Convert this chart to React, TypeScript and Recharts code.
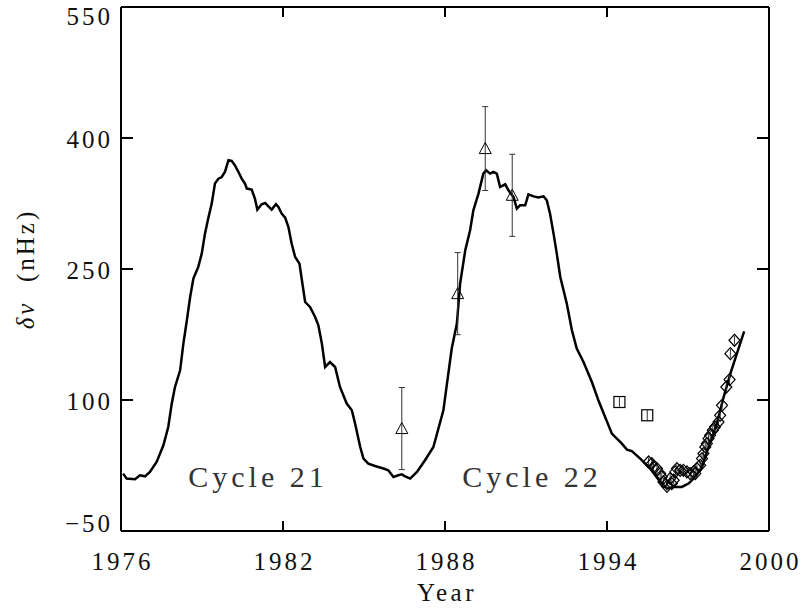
import React from "react";
import { ComposedChart, Line, Scatter, XAxis, YAxis, ErrorBar } from "recharts";

// smoothed frequency shift curve (nHz) vs year
const curveYear = [
  1976.08, 1976.21, 1976.52, 1976.7, 1976.89, 1977.07, 1977.32, 1977.57, 1977.75, 1977.88,
  1978.0, 1978.19, 1978.31, 1978.43, 1978.56, 1978.68, 1978.86, 1978.99, 1979.11, 1979.23,
  1979.36, 1979.48, 1979.61, 1979.73, 1979.85, 1979.98, 1980.1, 1980.22, 1980.35, 1980.47,
  1980.59, 1980.66, 1980.84, 1980.96, 1981.05, 1981.21, 1981.34, 1981.46, 1981.58, 1981.74,
  1981.83, 1981.95, 1982.08, 1982.2, 1982.32, 1982.45, 1982.61, 1982.7, 1982.82, 1983.0,
  1983.19, 1983.31, 1983.44, 1983.56, 1983.74, 1983.93, 1984.11, 1984.36, 1984.55, 1984.67,
  1984.86, 1984.98, 1985.16, 1985.41, 1985.72, 1985.9, 1986.09, 1986.27, 1986.4, 1986.52,
  1986.71, 1986.96, 1987.26, 1987.57, 1987.94, 1988.19, 1988.25, 1988.44, 1988.56, 1988.75,
  1988.93, 1989.05, 1989.24, 1989.42, 1989.52, 1989.67, 1989.79, 1989.92, 1990.04, 1990.23,
  1990.35, 1990.54, 1990.66, 1990.78, 1990.97, 1991.09, 1991.28, 1991.46, 1991.65, 1991.77,
  1991.89, 1992.02, 1992.14, 1992.27, 1992.39, 1992.51, 1992.7, 1992.88, 1993.13, 1993.44,
  1993.68, 1993.93, 1994.18, 1994.55, 1994.74, 1994.92, 1995.23, 1995.6, 1995.97, 1996.22,
  1996.46, 1996.77, 1997.02, 1997.27, 1997.52, 1997.76, 1998.07, 1998.32, 1998.57, 1998.81,
  1999.08,
];
const curveShift = [
  15.7, 10.0, 9.2, 13.8, 12.6, 17.6, 29.0, 48.1, 69.1, 95.9,
  114.9, 134.0, 164.6, 189.3, 217.6, 239.0, 252.3, 267.6, 290.5, 307.7,
  324.9, 347.8, 353.5, 355.3, 361.1, 374.5, 373.7, 368.7, 361.1, 353.5,
  347.8, 342.1, 340.9, 330.6, 318.0, 324.1, 325.6, 321.8, 318.0, 324.1,
  321.0, 313.4, 308.9, 298.1, 279.1, 263.7, 256.2, 237.1, 212.2, 206.5,
  195.0, 185.5, 164.6, 137.8, 143.5, 137.8, 114.9, 95.9, 88.2, 73.0,
  46.2, 32.9, 27.2, 24.4, 21.5, 19.5, 11.8, 13.8, 14.9, 12.6,
  10.0, 17.6, 31.0, 46.2, 88.2, 145.5, 158.9, 187.5, 233.3, 271.4,
  294.3, 317.2, 336.3, 359.2, 363.0, 359.2, 361.1, 359.2, 343.9, 347.0,
  340.1, 332.4, 319.2, 322.9, 322.9, 335.5, 333.2, 331.8, 333.2, 328.7,
  313.4, 290.5, 267.6, 240.8, 225.6, 210.4, 179.8, 158.9, 143.5, 120.6,
  99.7, 80.5, 61.5, 50.1, 43.2, 41.6, 32.9, 21.5, 6.1, -1.5,
  0.4, 0.4, 4.3, 11.8, 23.3, 46.2, 73.0, 103.4, 130.2, 153.1,
  178.7,
];

// triangles
const triYear = [1986.4, 1988.47, 1989.49, 1990.49];
const triShift = [67.3, 221.8, 387.9, 334.4];
const triErr = [47, 47, 48, 47];

// squares
const sqYear = [1994.46, 1995.49];
const sqShift = [97.7, 82.5];
const sqErr = [6, 6];

// diamonds
const diaYear = [
  1995.54, 1995.66, 1995.72, 1995.85, 1995.97, 1996.03, 1996.09, 1996.22, 1996.34, 1996.4,
  1996.47, 1996.53, 1996.59, 1996.71, 1996.83, 1996.96, 1997.08, 1997.2, 1997.27, 1997.33,
  1997.45, 1997.52, 1997.57, 1997.64, 1997.7, 1997.76, 1997.82, 1997.92, 1998.0, 1998.13,
  1998.19, 1998.26, 1998.42, 1998.54, 1998.57, 1998.72,
];
const diaShift = [
  29.0, 27.2, 23.3, 21.5, 15.7, 11.8, 6.1, 1.2, 10.0, 4.3,
  8.1, 17.6, 21.5, 19.5, 19.5, 17.6, 15.7, 17.6, 15.7, 21.5,
  25.2, 32.9, 38.6, 46.2, 50.1, 55.8, 59.6, 65.3, 69.1, 74.8,
  82.5, 93.9, 114.9, 123.4, 153.1, 168.4,
];

const xTicks = [1976, 1982, 1988, 1994, 2000];
const yTicks = [-50, 100, 250, 400, 550];

const curve = curveYear.map((yr, i) => ({ yr, v: curveShift[i] }));
const tri = triYear.map((yr, i) => ({ yr, v: triShift[i], err: triErr[i] }));
const sq = sqYear.map((yr, i) => ({ yr, v: sqShift[i], err: sqErr[i] }));
const dia = diaYear.map((yr, i) => ({ yr, v: diaShift[i], err: 5 }));

const FONT = "'Liberation Serif', 'Times New Roman', serif";
const INK = "#000";

const bottomTick = (p: any) => (
  <g>
    <line x1={p.x} y1={p.y} x2={p.x} y2={p.y - 10} stroke={INK} strokeWidth={2} />
    <text x={p.x + 1.5} y={p.y + 39} textAnchor="middle" fontFamily={FONT} fontSize={25} letterSpacing={3} fill="#111">
      {p.payload.value}
    </text>
  </g>
);

const topTick = (p: any) => (
  <line x1={p.x} y1={p.y} x2={p.x} y2={p.y + 10} stroke={INK} strokeWidth={2} />
);

const leftTick = (p: any) => {
  const val = p.payload.value;
  // end labels are pulled inside the frame
  const dy = val === 550 ? 18 : val === -50 ? 1 : 10;
  return (
    <g>
      <line x1={p.x} y1={p.y} x2={p.x + 12} y2={p.y} stroke={INK} strokeWidth={2} />
      <text x={p.x - 8} y={p.y + dy} textAnchor="end" fontFamily={FONT} fontSize={25} letterSpacing={3} fill="#111">
        {String(val).replace("-", "\u2212")}
      </text>
    </g>
  );
};

const rightTick = (p: any) => (
  <line x1={p.x} y1={p.y} x2={p.x - 12} y2={p.y} stroke={INK} strokeWidth={2} />
);

const triangle = (p: any) => (
  <polygon
    points={`${p.cx},${p.cy - 6} ${p.cx - 6},${p.cy + 5} ${p.cx + 6},${p.cy + 5}`}
    fill="none"
    stroke={INK}
    strokeWidth={1}
  />
);

const square = (p: any) => (
  <rect x={p.cx - 5.5} y={p.cy - 5.5} width={11} height={11} fill="none" stroke={INK} strokeWidth={1.2} />
);

const diamond = (p: any) => (
  <polygon
    points={`${p.cx},${p.cy - 6} ${p.cx + 5.5},${p.cy} ${p.cx},${p.cy + 6} ${p.cx - 5.5},${p.cy}`}
    fill="none"
    stroke={INK}
    strokeWidth={1.2}
  />
);

export default function App() {
  return (
    <div style={{ position: "absolute", left: 0, top: 0, width: 803, height: 608, background: "#fff" }}>
      <ComposedChart width={803} height={608} margin={{ top: 0, right: 0, bottom: 0, left: 0 }}>
        <XAxis
          xAxisId={0}
          dataKey="yr"
          type="number"
          domain={[1976, 2000]}
          ticks={xTicks}
          interval={0}
          allowDataOverflow
          height={77}
          tickSize={0}
          tickMargin={0}
          tickLine={false}
          axisLine={{ stroke: INK, strokeWidth: 2 }}
          tick={bottomTick}
        />
        <XAxis
          xAxisId="top"
          orientation="top"
          dataKey="yr"
          type="number"
          domain={[1976, 2000]}
          ticks={xTicks.slice(1, -1)}
          interval={0}
          allowDataOverflow
          height={7}
          tickSize={0}
          tickMargin={0}
          tickLine={false}
          axisLine={{ stroke: INK, strokeWidth: 2 }}
          tick={topTick}
        />
        <YAxis
          yAxisId={0}
          dataKey="v"
          type="number"
          domain={[-50, 550]}
          ticks={yTicks}
          interval={0}
          allowDataOverflow
          width={121}
          tickSize={0}
          tickMargin={0}
          tickLine={false}
          axisLine={{ stroke: INK, strokeWidth: 2 }}
          tick={leftTick}
        />
        <YAxis
          yAxisId="right"
          orientation="right"
          type="number"
          domain={[-50, 550]}
          ticks={yTicks.slice(1, -1)}
          interval={0}
          allowDataOverflow
          width={34}
          tickSize={0}
          tickMargin={0}
          tickLine={false}
          axisLine={{ stroke: INK, strokeWidth: 2 }}
          tick={rightTick}
        />
        <Line
          data={curve}
          dataKey="v"
          type="linear"
          stroke={INK}
          strokeWidth={2.5}
          dot={false}
          isAnimationActive={false}
        />
        <Scatter data={tri} dataKey="v" shape={triangle} isAnimationActive={false}>
          <ErrorBar dataKey="err" direction="y" width={3} stroke="#333" strokeWidth={1} />
        </Scatter>
        <Scatter data={sq} dataKey="v" shape={square} isAnimationActive={false}>
          <ErrorBar dataKey="err" direction="y" width={0} stroke="#333" strokeWidth={1} />
        </Scatter>
        <Scatter data={dia} dataKey="v" shape={diamond} isAnimationActive={false}>
          <ErrorBar dataKey="err" direction="y" width={0} stroke="#333" strokeWidth={1} />
        </Scatter>
      </ComposedChart>
      <svg width={803} height={608} style={{ position: "absolute", left: 0, top: 0, pointerEvents: "none" }}>
        <g fontFamily={FONT} fill="#333">
          <text x={258} y={487} textAnchor="middle" fontSize={30} letterSpacing={4}>Cycle 21</text>
          <text x={532} y={487} textAnchor="middle" fontSize={30} letterSpacing={4}>Cycle 22</text>
          <text x={447} y={601} textAnchor="middle" fontSize={25} letterSpacing={3.5} fill="#111">Year</text>
          <text
            transform="translate(34,269) rotate(-90)"
            textAnchor="middle"
            fontSize={25}
            letterSpacing={3}
            fill="#111"
            style={{ whiteSpace: "pre" }}
          >
            <tspan fontStyle="italic">δν</tspan>  (nHz)
          </text>
        </g>
      </svg>
    </div>
  );
}
